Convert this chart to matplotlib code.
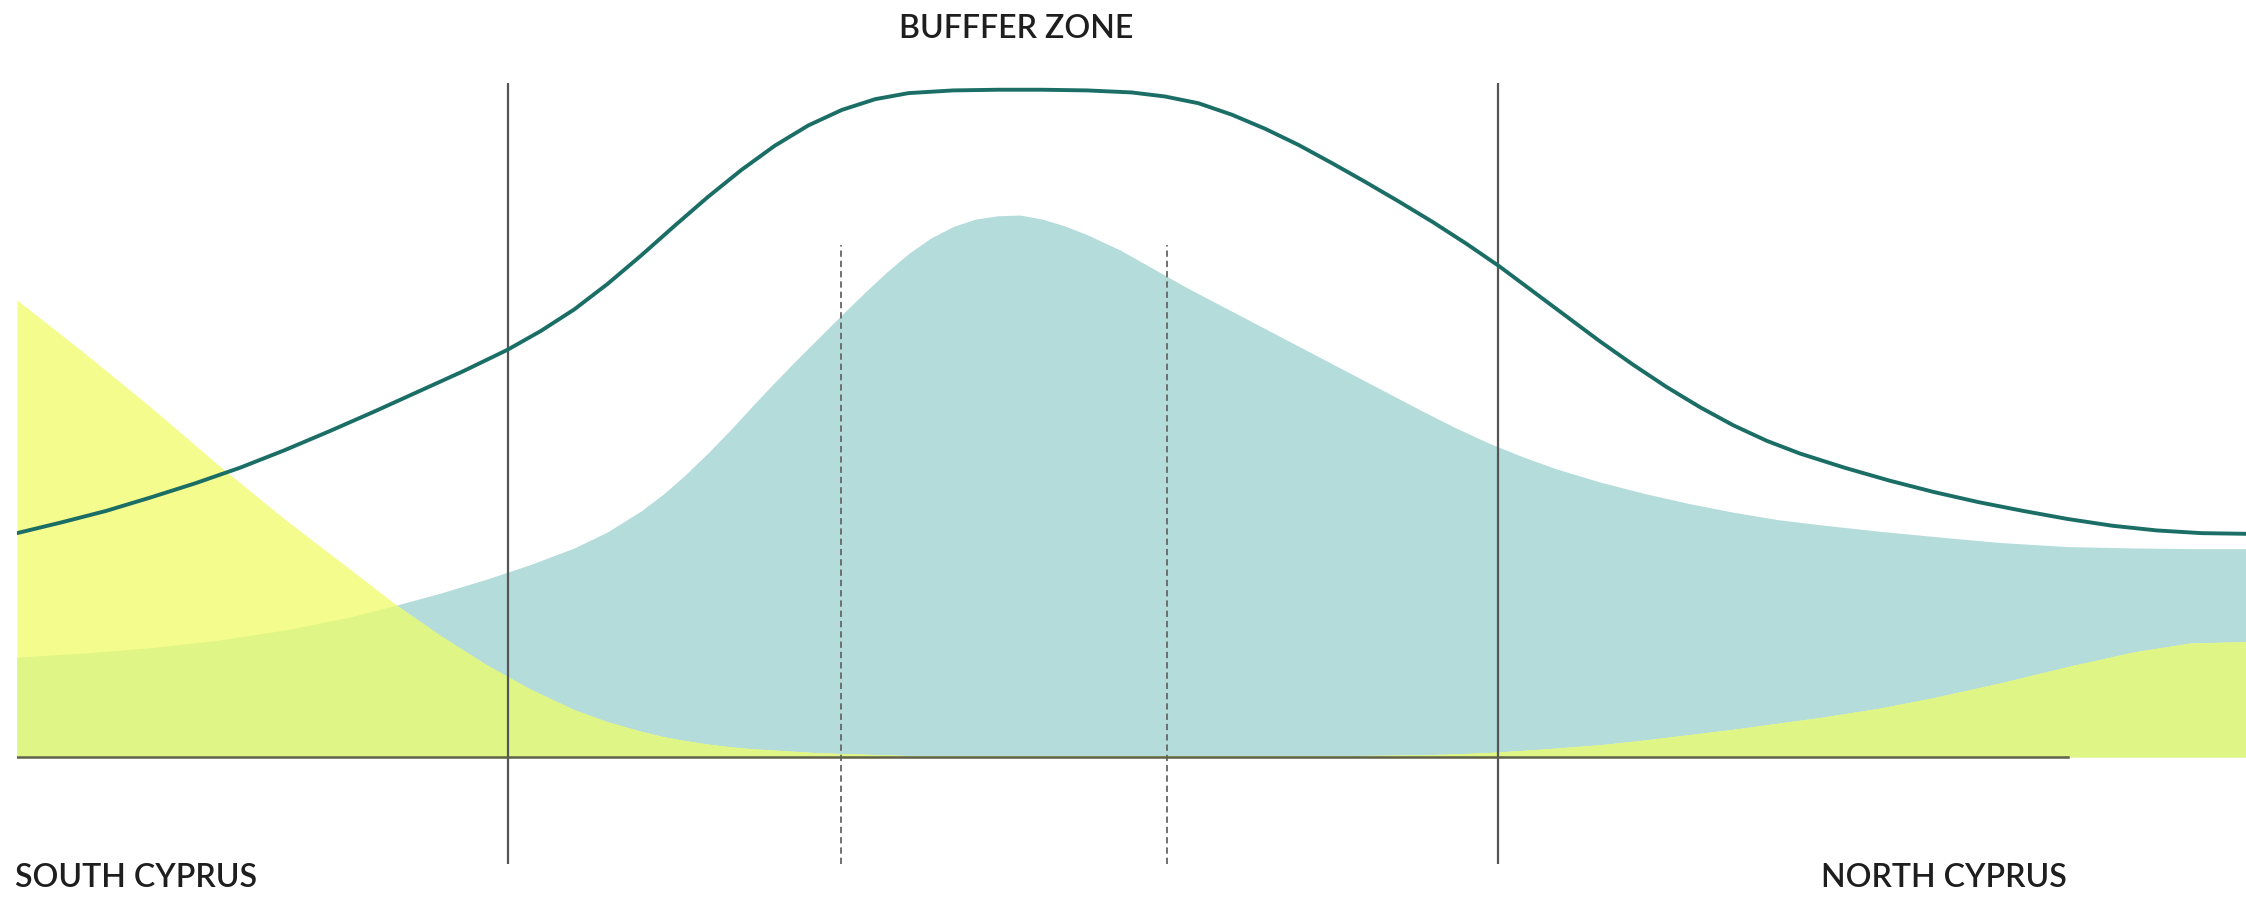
import numpy as np
import matplotlib.pyplot as plt

plt.rcParams['font.family'] = ['Lato', 'DejaVu Sans']

# positions across the island, 0 = south edge, 100 = north edge
fill_x = [0, 3, 6, 9, 12, 15, 17, 19, 21, 23, 25, 26.5, 28, 29, 30, 31, 32, 33,
          34, 35, 36, 37, 38, 39, 40, 41, 42, 43, 44, 45, 46, 47, 48, 49.5, 51,
          52.5, 54, 55.5, 57, 58.5, 60, 61.5, 63, 64.5, 66, 67.5, 69, 71, 73, 75,
          77, 79, 81, 83.5, 86, 89, 92, 95, 97.5, 100]
buffer_fill = [14.8, 15.4, 16.2, 17.3, 18.8, 20.8, 22.5, 24.3, 26.3, 28.5, 31.0,
               33.4, 36.5, 39.0, 41.9, 45.1, 48.5, 52.1, 55.6, 59.0, 62.3, 65.6,
               68.8, 71.9, 74.7, 77.0, 78.7, 79.8, 80.3, 80.4, 79.8, 78.8, 77.5,
               75.2, 72.4, 69.6, 67.0, 64.4, 61.8, 59.2, 56.6, 54.0, 51.4, 48.9,
               46.6, 44.6, 42.8, 40.8, 39.1, 37.6, 36.3, 35.2, 34.4, 33.5, 32.7,
               31.8, 31.2, 31.0, 30.9, 30.9]
cyprus_fill = [67.8, 60.0, 51.9, 43.4, 35.3, 27.7, 22.6, 18.0, 13.8, 10.1, 7.0,
               5.2, 3.8, 3.0, 2.4, 1.9, 1.5, 1.2, 1.0, 0.8, 0.6, 0.5, 0.4, 0.3,
               0.2, 0.2, 0.2, 0.2, 0.2, 0.2, 0.2, 0.2, 0.2, 0.2, 0.2, 0.2, 0.2,
               0.2, 0.2, 0.2, 0.2, 0.25, 0.3, 0.45, 0.65, 0.95, 1.3, 1.8, 2.5,
               3.3, 4.1, 5.0, 5.9, 7.2, 8.8, 11.0, 13.4, 15.6, 16.9, 17.1]

line_x = [0, 2, 4, 6, 8, 10, 12, 14, 16, 18, 20, 22, 23.5, 25, 26.5, 28, 29.5,
          31, 32.5, 34, 35.5, 37, 38.5, 40, 42, 44, 46, 48, 50, 51.5, 53, 54.5,
          56, 57.5, 59, 60.5, 62, 63.5, 65, 66.5, 68, 69.5, 71, 72.5, 74, 75.5,
          77, 78.5, 80, 82, 84, 86, 88, 90, 92, 94, 96, 98, 100]
line_y = [33.2, 34.8, 36.5, 38.5, 40.6, 42.9, 45.5, 48.3, 51.2, 54.2, 57.2, 60.4,
          63.2, 66.4, 70.2, 74.4, 78.8, 83.1, 87.1, 90.7, 93.7, 96.0, 97.6, 98.5,
          98.9, 99.0, 99.0, 98.9, 98.6, 98.0, 97.0, 95.3, 93.2, 90.8, 88.1, 85.3,
          82.4, 79.4, 76.2, 72.8, 69.1, 65.4, 61.7, 58.2, 54.9, 51.9, 49.2, 46.9,
          45.0, 42.9, 41.0, 39.3, 37.8, 36.5, 35.3, 34.3, 33.6, 33.2, 33.1]

solid_x = [22.05, 66.44]
dashed_x = [36.97, 51.6]
baseline_end = 92.0

title = "BUFFFER ZONE"
south_label = "SOUTH CYPRUS"
north_label = "NORTH CYPRUS"

W, H = 2246, 897
fig = plt.figure(figsize=(W / 100, H / 100), dpi=100)
ax = fig.add_axes([17 / W, 33 / H, 2229 / W, 781 / H])
ax.set_xlim(0, 100)
ax.set_ylim(-15.9, 100)
ax.axis("off")

fx = np.array(fill_x)
teal = np.array(buffer_fill)
yellow = np.array(cyprus_fill)

ax.fill_between(fx, 0, teal, color="#b3dcdb", lw=0, zorder=1)
ax.fill_between(fx, 0, yellow, color="#f4fc8d", lw=0, zorder=2)
ax.fill_between(fx, 0, np.minimum(teal, yellow), color="#dff586", lw=0, zorder=3)

ax.plot(line_x, line_y, color="#1b6e66", lw=2.8, zorder=6,
        solid_joinstyle="round")

ax.plot([0, baseline_end], [0, 0], color="#5f6148", lw=1.8, zorder=5)
for xv in solid_x:
    ax.plot([xv, xv], [-15.9, 100], color="#555555", lw=1.6, zorder=4)
for xv in dashed_x:
    ax.plot([xv, xv], [-15.9, 76.0], color="#666666", lw=1.3,
            linestyle=(0, (3.5, 2.2)), zorder=4)

txt = dict(fontsize=23, color="#1e1e1e", fontweight="semibold")
fig.text(1016 / W, 1 - 38 / H, title, ha="center", va="baseline", **txt)
fig.text(15 / W, 1 - 887 / H, south_label, ha="left", va="baseline", **txt)
fig.text(2067 / W, 1 - 887 / H, north_label, ha="right", va="baseline", **txt)

fig.savefig("out.png", dpi=100, facecolor="white")
